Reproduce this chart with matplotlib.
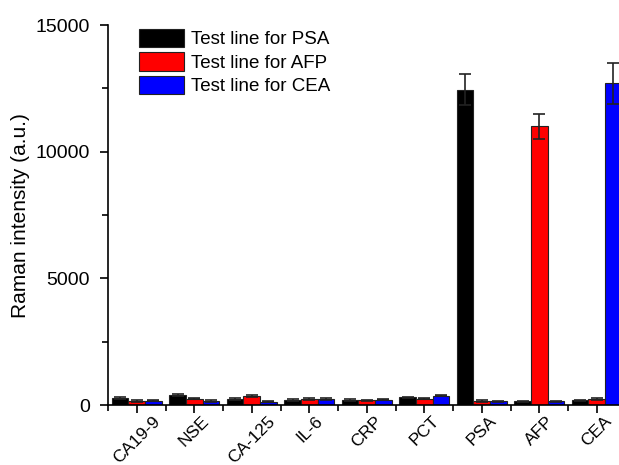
import numpy as np
import matplotlib.pyplot as plt
from matplotlib.ticker import MultipleLocator, FixedLocator

plt.rcParams['font.family'] = ['Liberation Sans', 'DejaVu Sans']

categories = ["CA19-9", "NSE", "CA-125", "IL-6", "CRP", "PCT", "PSA", "AFP", "CEA"]
psa_line = [280, 380, 240, 200, 200, 300, 12450, 145, 185]
afp_line = [160, 250, 340, 240, 185, 250, 160, 11000, 240]
cea_line = [170, 160, 130, 240, 210, 370, 145, 145, 12700]
psa_err = [40, 40, 40, 30, 30, 30, 600, 30, 30]
afp_err = [30, 30, 40, 30, 30, 30, 30, 500, 30]
cea_err = [30, 30, 30, 30, 30, 30, 30, 30, 800]
series_names = ["Test line for PSA", "Test line for AFP", "Test line for CEA"]

fig = plt.figure(figsize=(6.19, 4.65), dpi=100)
ax = fig.add_axes([0.1745, 0.129, 0.836, 0.817])

x = np.arange(1, len(categories) + 1)
w = 0.29
farben = ["black", "red", "blue"]
reihen = [psa_line, afp_line, cea_line]
fehler = [psa_err, afp_err, cea_err]
for i in range(3):
    ax.bar(x + (i - 1) * w, reihen[i], w, color=farben[i], edgecolor="#222222",
           linewidth=0.8, label=series_names[i],
           yerr=fehler[i], capsize=4,
           error_kw=dict(ecolor="#222222", elinewidth=1.2, capthick=1.2))

ax.set_xlim(0.5, 9.5)
ax.set_ylim(0, 15000)
ax.set_xticks(x)
ax.set_xticklabels(categories, rotation=45, ha="center", fontsize=12.5)
ax.xaxis.set_minor_locator(FixedLocator(np.arange(0.5, 10, 1)))
ax.yaxis.set_major_locator(MultipleLocator(5000))
ax.yaxis.set_minor_locator(MultipleLocator(2500))
ax.tick_params(axis="both", which="major", direction="out", length=6, width=1.2)
ax.tick_params(axis="y", which="major", pad=7, labelsize=14)
ax.tick_params(axis="x", which="major", pad=0, labelsize=12.5)
ax.tick_params(axis="both", which="minor", direction="out", length=4, width=1.2)
ax.spines["top"].set_visible(False)
ax.spines["right"].set_visible(False)
ax.spines["left"].set_linewidth(1.2)
ax.spines["bottom"].set_linewidth(1.2)
ax.set_ylabel("Raman intensity (a.u.)", fontsize=15, labelpad=4)

ax.legend(loc="upper left", bbox_to_anchor=(0.045, 1.01), frameon=False, fontsize=13.5,
          handlelength=2.4, handleheight=1.15, handletextpad=0.4, labelspacing=0.2,
          borderaxespad=0)

fig.savefig("out.png", dpi=100)
